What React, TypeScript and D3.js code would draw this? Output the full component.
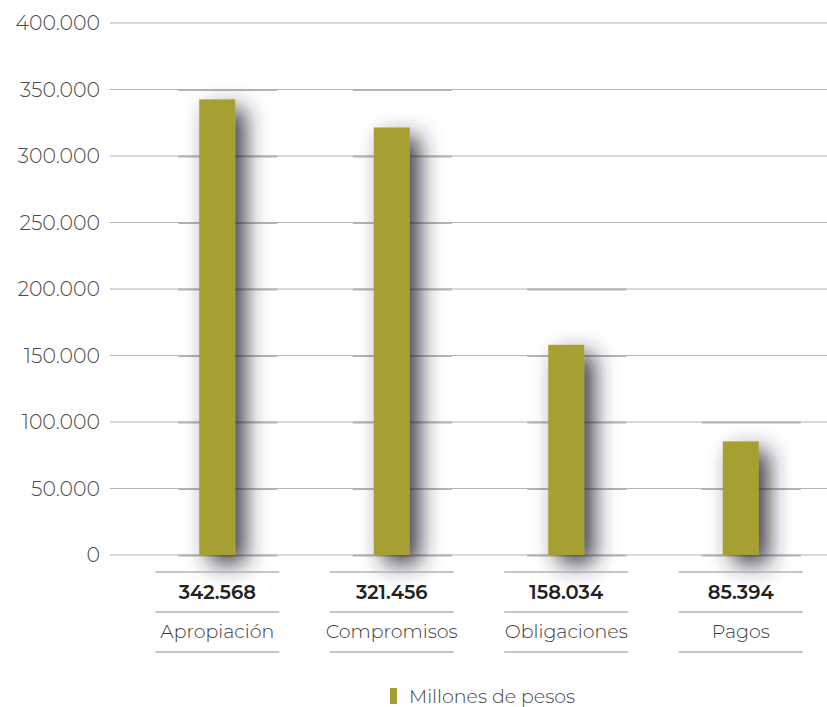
import React from 'react';
import * as d3 from 'd3';

const categories = ['Apropiación', 'Compromisos', 'Obligaciones', 'Pagos'];
const values = [342568, 321456, 158034, 85394];
const yTicks = [0, 50000, 100000, 150000, 200000, 250000, 300000, 350000, 400000];
const legendLabel = 'Millones de pesos';

const width = 827;
const height = 707;
const barColor = '#a69f30';
const gridColor = '#b3b3b5';
const font = "'Montserrat', 'Noto Sans', 'Open Sans', sans-serif";

const locale = d3.formatLocale({ decimal: ',', thousands: '.', grouping: [3], currency: ['$', ''] });
const fmt = locale.format(',d');

const App: React.FC = () => {
    const x = d3.scaleBand<string>().domain(categories).range([130, 828]).padding(0);
    const y = d3.scaleLinear().domain([0, 400000]).range([555, 23]);
    const barW = 36;
    const center = (c: string) => (x(c) ?? 0) + x.bandwidth() / 2;

    return (
        <svg
            width={width}
            height={height}
            style={{ position: 'absolute', left: 0, top: 0, background: '#fff' }}
        >
            <defs>
                <filter id="shadow" x="-200%" y="-30%" width="500%" height="160%">
                    <feGaussianBlur in="SourceAlpha" stdDeviation="11" />
                    <feOffset dx="10" dy="9" result="blur" />
                    <feFlood floodColor="#2a2838" floodOpacity="0.9" />
                    <feComposite in2="blur" operator="in" result="sh" />
                    <feMerge>
                        <feMergeNode in="sh" />
                        <feMergeNode in="SourceGraphic" />
                    </feMerge>
                </filter>
            </defs>

            {/* gridlines + y labels */}
            {yTicks.map((t) => (
                <g key={t}>
                    <line x1={110} x2={width} y1={y(t)} y2={y(t)} stroke={gridColor} strokeWidth={1.2} />
                    <text
                        x={100}
                        y={y(t)}
                        dy="0.36em"
                        textAnchor="end"
                        fontFamily={font}
                        fontSize={20.5}
                        fontWeight={300}
                        fill="#4a4a4a"
                    >
                        {fmt(t)}
                    </text>
                </g>
            ))}

            {/* thicker grid segments behind each bar */}
            {categories.map((c, i) => {
                const top = Math.ceil(values[i] / 50000) * 50000;
                return yTicks
                    .filter((t) => t <= top)
                    .map((t) => (
                        <line
                            key={c + t}
                            x1={center(c) - 39}
                            x2={center(c) + 60}
                            y1={y(t) + 0.5}
                            y2={y(t) + 0.5}
                            stroke={gridColor}
                            strokeWidth={2.2}
                        />
                    ));
            })}

            {/* bars */}
            {categories.map((c, i) => (
                <rect
                    key={c}
                    x={center(c) - barW / 2}
                    y={y(values[i])}
                    width={barW}
                    height={y(0) - y(values[i])}
                    fill={barColor}
                    filter="url(#shadow)"
                />
            ))}

            {/* data table under the axis */}
            {categories.map((c, i) => (
                <g key={'t' + c} fontFamily={font}>
                    {[572, 612, 652].map((ly) => (
                        <line
                            key={ly}
                            x1={center(c) - 62}
                            x2={center(c) + 62}
                            y1={ly}
                            y2={ly}
                            stroke={gridColor}
                            strokeWidth={1.6}
                        />
                    ))}
                    <text x={center(c)} y={599} textAnchor="middle" fontSize={19.5} fontWeight={600} fill="#222">
                        {fmt(values[i])}
                    </text>
                    <text x={center(c)} y={638} textAnchor="middle" fontSize={19} fontWeight={300} fill="#3a3a3a">
                        {c}
                    </text>
                </g>
            ))}

            {/* legend */}
            <rect x={390} y={688} width={7} height={16} fill={barColor} />
            <text x={409} y={703} fontFamily={font} fontSize={19} fontWeight={300} fill="#444">
                {legendLabel}
            </text>
        </svg>
    );
};

export default App;
